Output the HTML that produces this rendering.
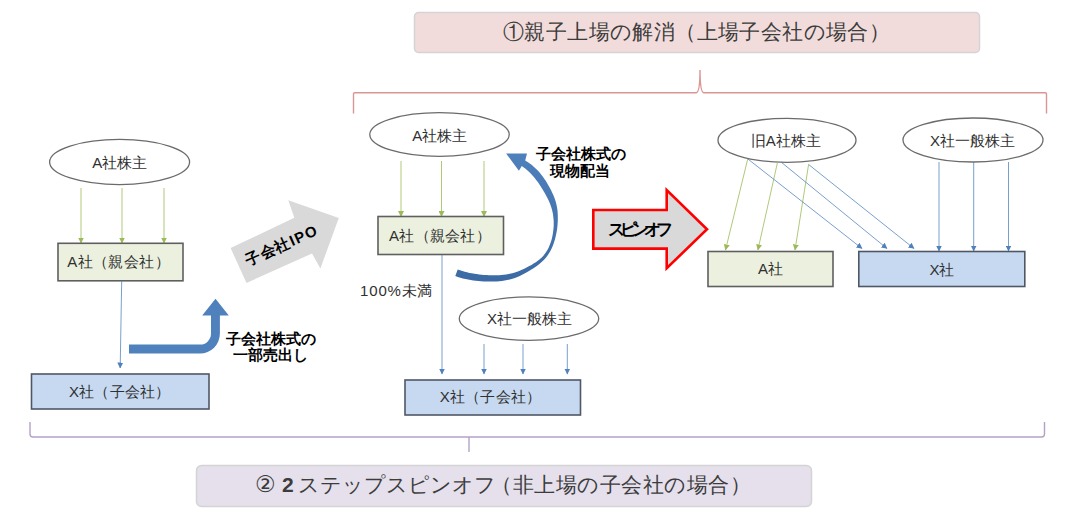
<!DOCTYPE html>
<html><head><meta charset="utf-8">
<style>
html,body{margin:0;padding:0;background:#fff;}
body{width:1089px;height:518px;overflow:hidden;position:relative;font-family:"Liberation Sans",sans-serif;}
svg{position:absolute;left:0;top:0;}
text{font-family:"Liberation Sans",sans-serif;}
</style></head><body>
<svg width="1089" height="518" viewBox="0 0 1089 518">
<defs>
<marker id="ag" markerWidth="6" markerHeight="6" refX="5.5" refY="3" orient="auto" markerUnits="userSpaceOnUse"><path d="M0,0 L6,3 L0,6 z" fill="#9bbb59"/></marker>
<marker id="ab" markerWidth="6" markerHeight="6" refX="5.5" refY="3" orient="auto" markerUnits="userSpaceOnUse"><path d="M0,0 L6,3 L0,6 z" fill="#4f81bd"/></marker>
<linearGradient id="cg" x1="0" y1="150" x2="0" y2="282" gradientUnits="userSpaceOnUse"><stop offset="0" stop-color="#4f81bd"/><stop offset="1" stop-color="#3c6aa5"/></linearGradient>
</defs>

<!-- title 1 -->
<rect x="414.5" y="12.5" width="565" height="40" rx="4" fill="#f2dcdb" stroke="#d4d4d4" stroke-width="1.5"/>
<text id="t1" x="503" y="38.5" font-size="21" letter-spacing="0.4" fill="#3c3c3c">①親子上場の解消（上場子会社の場合）</text>

<!-- top bracket -->
<path d="M353.5,113.5 L353.5,94 Q353.5,92.8 354.7,92.8 L696,92.8 Q700,92.8 700,70 Q700,92.8 704,92.8 L1045.3,92.8 Q1046.5,92.8 1046.5,94 L1046.5,113.5" fill="none" stroke="#d99694" stroke-width="1.4"/>

<!-- bottom bracket -->
<path d="M30,422 L30,434 Q30,437 33,437 L1041.5,437 Q1044.5,437 1044.5,434 L1044.5,422" fill="none" stroke="#b3a2c7" stroke-width="1.4"/>
<path d="M469,437 L469,452" fill="none" stroke="#b3a2c7" stroke-width="1.4"/>

<!-- title 2 -->
<rect x="196.5" y="465.5" width="615" height="41" rx="5" fill="#e5e0ec" stroke="#d4d4d4" stroke-width="1.5"/>
<text id="t2" y="491.5" font-size="21" fill="#3c3c3c"><tspan x="255" font-size="23" dy="0.5">②</tspan><tspan x="282" font-weight="bold">2</tspan><tspan x="298">ステップスピンオフ</tspan><tspan x="491" letter-spacing="0.55">（非上場の子会社の場合）</tspan></text>

<!-- ===== LEFT ===== -->
<ellipse cx="119.6" cy="162" rx="70" ry="22.6" fill="#fff" stroke="#6b6b6b" stroke-width="1.3"/>
<text id="l_ell" x="119.8" y="168" font-size="15" text-anchor="middle" fill="#303030">A社株主</text>
<line x1="81" y1="188" x2="81" y2="243" stroke="#9bbb59" stroke-width="1" stroke-opacity="0.8" marker-end="url(#ag)"/>
<line x1="122" y1="188" x2="122" y2="243" stroke="#9bbb59" stroke-width="1" stroke-opacity="0.8" marker-end="url(#ag)"/>
<line x1="164" y1="188" x2="164" y2="243" stroke="#9bbb59" stroke-width="1" stroke-opacity="0.8" marker-end="url(#ag)"/>
<rect x="58" y="243.3" width="125" height="37.5" fill="#ebf1de" stroke="#5f5f5f" stroke-width="1.6"/>
<text id="l_a" x="118.7" y="267" font-size="15" letter-spacing="0.4" text-anchor="middle" fill="#303030">A社（親会社）</text>
<line x1="121.7" y1="281" x2="120.2" y2="368" stroke="#4f81bd" stroke-width="0.9" stroke-opacity="0.85" marker-end="url(#ab)"/>
<rect x="31.5" y="374" width="177.5" height="35" fill="#c6d9f1" stroke="#4f5766" stroke-width="1.6"/>
<text id="l_x" x="119.7" y="396.5" font-size="15" letter-spacing="0.2" text-anchor="middle" fill="#303030">X社（子会社）</text>

<!-- bent blue arrow -->
<path d="M129,344.6 L200,344.6 A11,11 0 0 0 211,333.6 L211,315.6 L202.2,315.6 L215.5,298.8 L228.8,315.6 L219.9,315.6 L219.9,333.6 A19.9,19.9 0 0 1 200,353.5 L129,353.5 Z" fill="#4f81bd"/>
<text id="l_lab1" x="271.4" y="344" font-size="15" font-weight="bold" text-anchor="middle" fill="#000">子会社株式の</text>
<text id="l_lab2" x="270.5" y="360.3" font-size="15" font-weight="bold" text-anchor="middle" fill="#000">一部売出し</text>

<!-- gray IPO arrow -->
<polygon points="230.6,248 294.3,217.8 288.3,200.3 338.8,218 320.4,268.4 312,253.5 246.5,283" fill="#d9d9d9"/>
<text id="ipo" transform="translate(281.5,245.5) rotate(-24)" x="0" y="5" font-size="15" letter-spacing="1.3" font-weight="bold" text-anchor="middle" fill="#000">子会社IPO</text>

<!-- ===== MIDDLE ===== -->
<ellipse cx="439.5" cy="134.5" rx="69.7" ry="21.9" fill="#fff" stroke="#6b6b6b" stroke-width="1.3"/>
<text id="m_ell" x="439.7" y="141" font-size="15" text-anchor="middle" fill="#303030">A社株主</text>
<line x1="401" y1="161" x2="401" y2="216.5" stroke="#9bbb59" stroke-width="1" stroke-opacity="0.8" marker-end="url(#ag)"/>
<line x1="441.5" y1="161" x2="441.5" y2="216.5" stroke="#9bbb59" stroke-width="1" stroke-opacity="0.8" marker-end="url(#ag)"/>
<line x1="484" y1="161" x2="484" y2="216.5" stroke="#9bbb59" stroke-width="1" stroke-opacity="0.8" marker-end="url(#ag)"/>
<rect x="378" y="216.5" width="125.5" height="38" fill="#ebf1de" stroke="#5f5f5f" stroke-width="1.6"/>
<text id="m_a" x="440" y="240.5" font-size="15" letter-spacing="0.3" text-anchor="middle" fill="#303030">A社（親会社）</text>
<line x1="442" y1="255" x2="442" y2="374" stroke="#4f81bd" stroke-width="0.9" stroke-opacity="0.85" marker-end="url(#ab)"/>
<text id="m_100" x="396.7" y="295.5" font-size="15" letter-spacing="0.8" text-anchor="middle" fill="#303030">100%未満</text>

<ellipse cx="529" cy="318.6" rx="69.7" ry="21.7" fill="#fff" stroke="#6b6b6b" stroke-width="1.3"/>
<text id="m_xell" x="529.5" y="324" font-size="15" text-anchor="middle" fill="#303030">X社一般株主</text>
<line x1="484" y1="344" x2="484" y2="374" stroke="#4f81bd" stroke-width="0.9" stroke-opacity="0.85" marker-end="url(#ab)"/>
<line x1="523" y1="344" x2="523" y2="374" stroke="#4f81bd" stroke-width="0.9" stroke-opacity="0.85" marker-end="url(#ab)"/>
<line x1="567.3" y1="344" x2="567.3" y2="374" stroke="#4f81bd" stroke-width="0.9" stroke-opacity="0.85" marker-end="url(#ab)"/>
<rect x="405" y="380" width="175.5" height="35" fill="#c6d9f1" stroke="#4f5766" stroke-width="1.6"/>
<text id="m_x" x="490.5" y="401.5" font-size="15" letter-spacing="0.2" text-anchor="middle" fill="#303030">X社（子会社）</text>

<!-- curved arrow -->
<path d="M455.3,276.1 L457.8,277.0 L460.4,277.8 L462.9,278.5 L465.5,279.1 L468.1,279.6 L470.7,280.1 L473.2,280.5 L475.8,280.8 L478.4,281.1 L481.0,281.3 L483.6,281.4 L486.3,281.5 L488.9,281.5 L491.5,281.5 L494.1,281.5 L496.7,281.4 L499.4,281.2 L502.0,280.9 L504.6,280.6 L507.2,280.1 L509.8,279.5 L512.4,278.8 L514.9,277.9 L517.4,277.0 L519.8,275.9 L522.1,274.8 L524.5,273.5 L526.8,272.3 L529.0,270.9 L531.3,269.6 L533.5,268.2 L535.7,266.7 L537.8,265.2 L539.9,263.5 L541.9,261.8 L543.8,260.0 L545.6,258.1 L547.2,256.0 L548.7,253.8 L550.1,251.6 L551.3,249.2 L552.4,246.8 L553.4,244.3 L554.2,241.8 L555.0,239.2 L555.6,236.7 L556.2,234.1 L556.7,231.5 L557.1,228.9 L557.4,226.3 L557.6,223.7 L557.8,221.1 L557.8,218.5 L557.8,215.9 L557.7,213.2 L557.5,210.6 L557.1,207.9 L556.6,205.3 L556.0,202.7 L555.2,200.1 L554.3,197.6 L553.3,195.1 L552.2,192.7 L551.1,190.3 L549.9,188.0 L548.6,185.7 L547.3,183.4 L545.9,181.1 L544.4,178.9 L542.9,176.8 L541.3,174.7 L539.6,172.6 L537.8,170.6 L535.9,168.7 L534.0,166.9 L531.9,165.1 L529.8,163.5 L527.6,161.9 L525.2,160.4 L527.0,153.4 L506.1,153.4 L518.9,170.7 L521.8,166.0 L523.8,167.4 L525.6,168.8 L527.5,170.4 L529.2,172.0 L530.9,173.7 L532.5,175.5 L534.1,177.3 L535.6,179.2 L537.0,181.1 L538.5,183.1 L539.8,185.1 L541.2,187.2 L542.5,189.3 L543.8,191.4 L545.0,193.6 L546.2,195.7 L547.4,197.9 L548.4,200.1 L549.4,202.3 L550.3,204.5 L551.1,206.7 L551.8,209.0 L552.4,211.4 L552.9,213.8 L553.2,216.2 L553.5,218.7 L553.7,221.1 L553.7,223.6 L553.7,226.1 L553.5,228.5 L553.2,231.0 L552.9,233.5 L552.4,236.0 L551.9,238.4 L551.2,240.9 L550.4,243.3 L549.5,245.6 L548.5,247.9 L547.4,250.1 L546.1,252.1 L544.7,254.1 L543.2,255.9 L541.5,257.7 L539.7,259.3 L537.8,260.8 L535.8,262.2 L533.6,263.6 L531.5,264.9 L529.3,266.1 L527.0,267.3 L524.7,268.4 L522.5,269.5 L520.2,270.5 L517.9,271.4 L515.6,272.2 L513.3,272.9 L510.9,273.6 L508.6,274.1 L506.2,274.5 L503.8,274.8 L501.4,275.1 L499.0,275.2 L496.5,275.3 L494.0,275.3 L491.5,275.3 L489.0,275.2 L486.5,275.1 L484.0,274.9 L481.6,274.7 L479.1,274.4 L476.7,274.1 L474.3,273.8 L471.8,273.3 L469.4,272.9 L467.1,272.3 L464.7,271.7 L462.4,271.0 L460.0,270.3 L457.7,269.5Z" fill="url(#cg)"/>
<text id="m_lab1" x="581" y="158.5" font-size="15" font-weight="bold" text-anchor="middle" fill="#000">子会社株式の</text>
<text id="m_lab2" x="580" y="175.5" font-size="15" font-weight="bold" text-anchor="middle" fill="#000">現物配当</text>

<!-- spin-off arrow -->
<polygon points="593.3,210 666.7,210 666.7,190 707,229.2 666.7,268.3 666.7,248.6 593.3,248.6" fill="#d9d9d9" stroke="#ff0000" stroke-width="2.6" stroke-linejoin="miter"/>
<text id="spin" x="638" y="234.8" font-size="16.5" letter-spacing="-5" font-weight="bold" text-anchor="middle" fill="#000">スピンオフ</text>

<!-- ===== RIGHT ===== -->
<ellipse cx="787" cy="140.3" rx="69" ry="22" fill="#fff" stroke="#6b6b6b" stroke-width="1.3"/>
<text id="r_ell1" x="785.8" y="146" font-size="15" text-anchor="middle" fill="#303030">旧A社株主</text>
<ellipse cx="973" cy="140" rx="70" ry="22" fill="#fff" stroke="#6b6b6b" stroke-width="1.3"/>
<text id="r_ell2" x="972.5" y="146" font-size="15" text-anchor="middle" fill="#303030">X社一般株主</text>

<line x1="747.8" y1="158.7" x2="725.5" y2="250" stroke="#9bbb59" stroke-width="1" stroke-opacity="0.8" marker-end="url(#ag)"/>
<line x1="777.6" y1="162" x2="757.9" y2="250" stroke="#9bbb59" stroke-width="1" stroke-opacity="0.8" marker-end="url(#ag)"/>
<line x1="808.6" y1="164.5" x2="795" y2="250" stroke="#9bbb59" stroke-width="1" stroke-opacity="0.8" marker-end="url(#ag)"/>
<line x1="747.5" y1="158.7" x2="862" y2="248.5" stroke="#4f81bd" stroke-width="0.9" stroke-opacity="0.85" marker-end="url(#ab)"/>
<line x1="781" y1="162" x2="887" y2="248.5" stroke="#4f81bd" stroke-width="0.9" stroke-opacity="0.85" marker-end="url(#ab)"/>
<line x1="808.6" y1="164.5" x2="914" y2="248.5" stroke="#4f81bd" stroke-width="0.9" stroke-opacity="0.85" marker-end="url(#ab)"/>
<line x1="939" y1="162" x2="939" y2="251" stroke="#4f81bd" stroke-width="0.9" stroke-opacity="0.85" marker-end="url(#ab)"/>
<line x1="973.7" y1="162" x2="973.7" y2="251" stroke="#4f81bd" stroke-width="0.9" stroke-opacity="0.85" marker-end="url(#ab)"/>
<line x1="1008.5" y1="162" x2="1008.5" y2="251" stroke="#4f81bd" stroke-width="0.9" stroke-opacity="0.85" marker-end="url(#ab)"/>

<rect x="708" y="251.5" width="125" height="35" fill="#ebf1de" stroke="#5f5f5f" stroke-width="1.6"/>
<text id="r_a" x="770.4" y="274.3" font-size="15" text-anchor="middle" fill="#303030">A社</text>
<rect x="858.8" y="251.5" width="166" height="35" fill="#c6d9f1" stroke="#4f5766" stroke-width="1.6"/>
<text id="r_x" x="942" y="274.5" font-size="15" text-anchor="middle" fill="#303030">X社</text>
</svg>
</body></html>
